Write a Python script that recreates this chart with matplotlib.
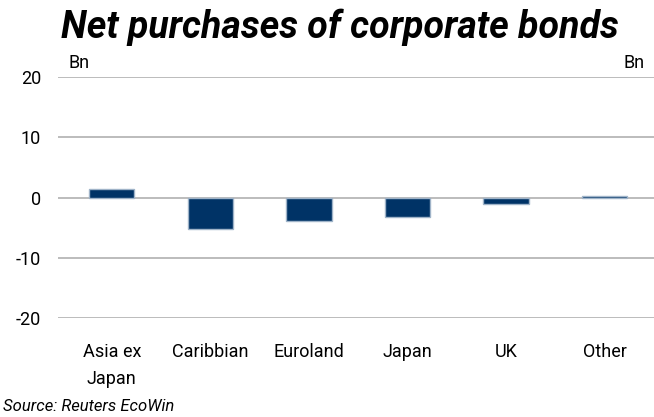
import matplotlib
matplotlib.use('Agg')
import matplotlib.pyplot as plt

categories = ['Asia ex\nJapan', 'Caribbian', 'Euroland', 'Japan', 'UK', 'Other']
values = [1.5, -5.2, -3.8, -3.2, -1.0, 0.3]
yticks = [-20, -10, 0, 10, 20]

plt.rcParams['font.family'] = ['Roboto', 'DejaVu Sans']

fig = plt.figure(figsize=(6.54, 4.17), dpi=100)
ax = fig.add_axes([0.088, 0.237, 0.912, 0.578])

ax.bar(range(len(categories)), values, width=0.46, color='#003366',
       edgecolor='#9fb3c8', linewidth=1.0, zorder=3)

ax.set_xlim(-0.55, 5.5)
ax.set_ylim(-20, 20)
ax.set_yticks(yticks)
ax.set_yticklabels([str(v) for v in yticks], fontsize=13)
ax.set_xticks(range(len(categories)))
ax.set_xticklabels(categories, fontsize=13, linespacing=1.6)
ax.tick_params(length=0)
ax.tick_params(axis='y', pad=12)
ax.tick_params(axis='x', pad=18)
ax.grid(axis='y', color='#b0b0b0', linewidth=1.2, zorder=0)
for s in ax.spines.values():
    s.set_visible(False)

fig.text(0.52, 0.935, 'Net purchases of corporate bonds', ha='center', va='center',
         fontsize=27, fontweight='semibold', style='italic')
fig.text(0.105, 0.848, 'Bn', fontsize=13, va='center')
fig.text(0.985, 0.848, 'Bn', fontsize=13, va='center', ha='right')
fig.text(0.005, 0.025, 'Source: Reuters EcoWin', fontsize=12, style='italic', va='center')

fig.savefig('out.png', dpi=100)
